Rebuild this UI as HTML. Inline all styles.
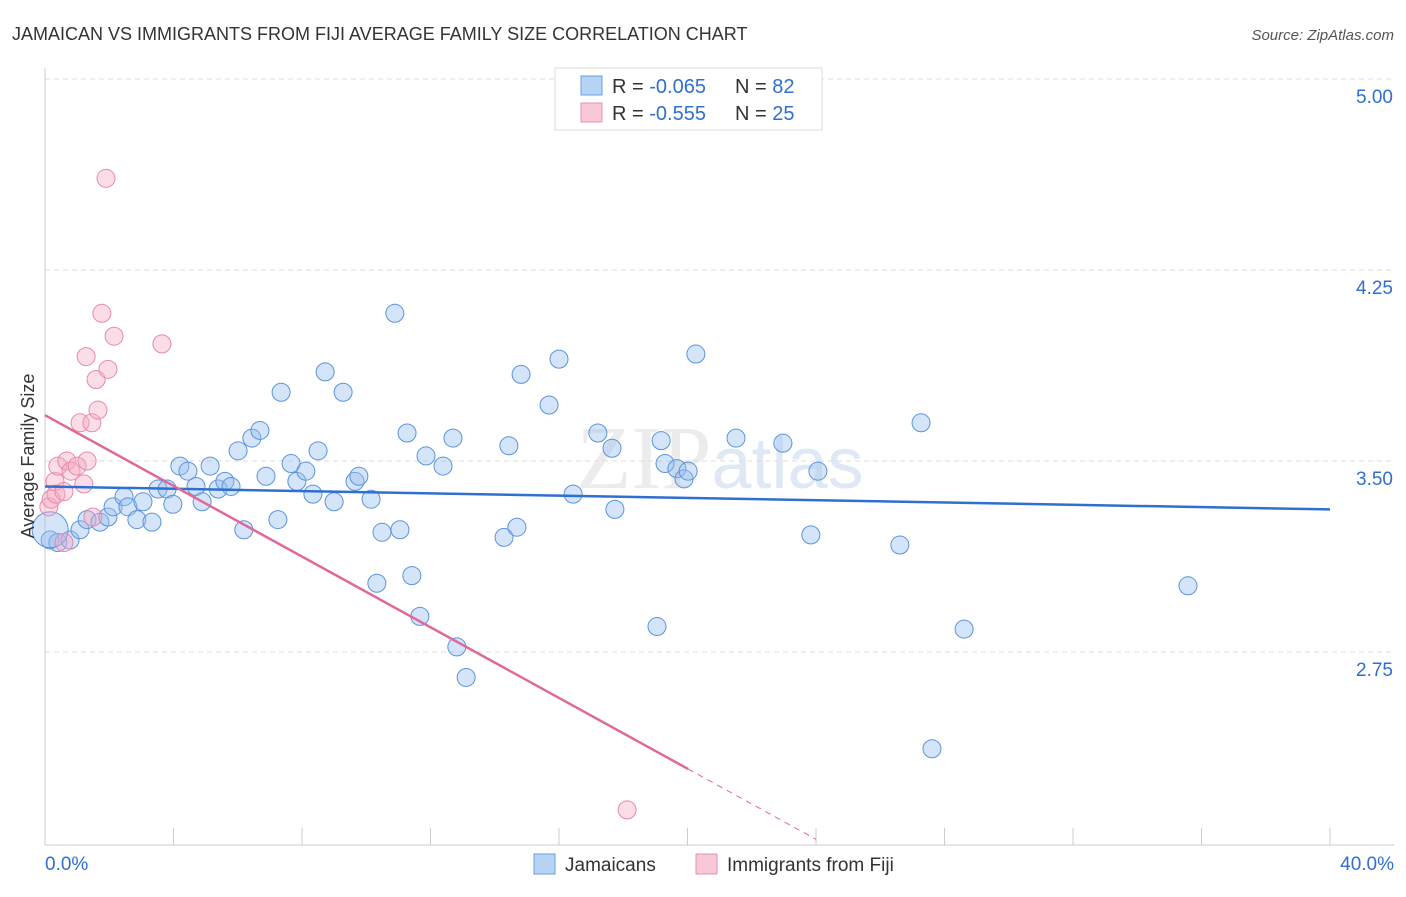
<!DOCTYPE html>
<html><head><meta charset="utf-8"><style>
body{margin:0;background:#fff;font-family:"Liberation Sans",sans-serif;}
</style></head><body>
<svg width="1406" height="892" xmlns="http://www.w3.org/2000/svg" font-family="Liberation Sans, sans-serif">
<text x="12" y="40" font-size="18" fill="#333">JAMAICAN VS IMMIGRANTS FROM FIJI AVERAGE FAMILY SIZE CORRELATION CHART</text>
<text x="1394" y="40" font-size="15" fill="#555" font-style="italic" text-anchor="end">Source: ZipAtlas.com</text>
<text x="720" y="488" font-size="90" fill="#ececec" text-anchor="middle" font-family="Liberation Serif, serif">ZIP<tspan fill="#dfe9f6" font-family="Liberation Sans, sans-serif" font-size="72">atlas</tspan></text>
<g id="grid"></g><g id="axes"></g><g id="marks"></g>
<text transform="translate(34,456) rotate(-90)" font-size="18" fill="#333" text-anchor="middle">Average Family Size</text>
<g>
<rect x="555" y="68" width="267" height="62" fill="#fff" stroke="#ddd"/>
<rect x="581" y="76" width="21" height="19" fill="#b8d4f5" stroke="#6a9ee0"/>
<rect x="581" y="103" width="21" height="19" fill="#f8c8d6" stroke="#e890aa"/>
<text x="612" y="93" font-size="20" fill="#333">R = <tspan fill="#2f6fd0">-0.065</tspan></text>
<text x="735" y="93" font-size="20" fill="#333">N = <tspan fill="#2f6fd0">82</tspan></text>
<text x="612" y="120" font-size="20" fill="#333">R = <tspan fill="#2f6fd0">-0.555</tspan></text>
<text x="735" y="120" font-size="20" fill="#333">N = <tspan fill="#2f6fd0">25</tspan></text>
</g>
<g>
<rect x="534" y="854" width="21" height="20" fill="#b8d4f5" stroke="#6a9ee0"/>
<text x="565" y="871" font-size="19" fill="#333">Jamaicans</text>
<rect x="696" y="854" width="21" height="20" fill="#f8c8d6" stroke="#e890aa"/>
<text x="727" y="871" font-size="19" fill="#333">Immigrants from Fiji</text>
</g>
</svg>
<script>
const yTicks=[5.00,4.25,3.50,2.75];
const yTickLabels=["5.00","4.25","3.50","2.75"];
const xTicks=[0,4,8,12,16,20,24,28,32,36,40];
const blueX=[0.16,0.40,0.78,1.09,1.31,1.71,1.96,2.12,2.46,2.58,2.86,3.05,3.33,3.52,3.80,3.98,4.20,4.45,4.70,4.89,5.14,5.39,5.60,5.79,6.01,6.19,6.44,6.69,6.88,7.25,7.35,7.66,7.84,8.12,8.34,8.50,8.72,9.00,9.28,9.65,9.77,10.15,10.33,10.49,10.89,11.05,11.27,11.42,11.67,11.86,12.39,12.70,12.82,13.11,14.29,14.44,14.69,14.82,15.69,16.00,16.44,17.21,17.65,17.74,19.05,19.18,19.30,19.67,19.89,20.02,20.26,21.51,22.97,23.84,24.06,26.61,27.27,27.61,28.61,35.58,0.16];
const blueY=[3.19,3.18,3.19,3.23,3.27,3.26,3.28,3.32,3.36,3.32,3.27,3.34,3.26,3.39,3.39,3.33,3.48,3.46,3.40,3.34,3.48,3.39,3.42,3.40,3.54,3.23,3.59,3.62,3.44,3.27,3.77,3.49,3.42,3.46,3.37,3.54,3.85,3.34,3.77,3.42,3.44,3.35,3.02,3.22,4.08,3.23,3.61,3.05,2.89,3.52,3.48,3.59,2.77,2.65,3.20,3.56,3.24,3.84,3.72,3.90,3.37,3.61,3.55,3.31,2.85,3.58,3.49,3.47,3.43,3.46,3.92,3.59,3.57,3.21,3.46,3.17,3.65,2.37,2.84,3.01,3.23];
const blueR=[9,9,9,9,9,9,9,9,9,9,9,9,9,9,9,9,9,9,9,9,9,9,9,9,9,9,9,9,9,9,9,9,9,9,9,9,9,9,9,9,9,9,9,9,9,9,9,9,9,9,9,9,9,9,9,9,9,9,9,9,9,9,9,9,9,9,9,9,9,9,9,9,9,9,9,9,9,9,9,9,18];
const pinkX=[0.12,0.19,0.31,0.34,0.40,0.59,0.68,0.81,1.00,1.09,1.21,1.28,1.31,1.46,1.49,1.59,1.65,1.77,1.90,1.96,2.15,3.64,18.12,0.59];
const pinkY=[3.32,3.35,3.42,3.37,3.48,3.38,3.50,3.46,3.48,3.65,3.41,3.91,3.50,3.65,3.28,3.82,3.70,4.08,4.61,3.86,3.99,3.96,2.13,3.18];
const blueTrend=[3.40,3.31];
const pinkTrend=[3.68,-0.0694,20.02,24.0];
const NS="http://www.w3.org/2000/svg";
const X=v=>45+v/40*1285, Y=v=>79+(5-v)/0.75*191;
function mk(t,a,p){const e=document.createElementNS(NS,t);for(const k in a)e.setAttribute(k,a[k]);document.getElementById(p).appendChild(e);return e;}
yTicks.forEach((t,i)=>{
 const g=mk('line',{x1:45,x2:1394,y1:Y(t),y2:Y(t),stroke:'#ddd','stroke-dasharray':'5,4'},'grid');
 
 
 const l=mk('text',{x:1393,y:Y(t)+24,'font-size':19,fill:'#2f6fd0','text-anchor':'end'},'axes');
 l.textContent=yTickLabels[i];
 
 
});
const ax=mk('line',{x1:45,x2:45,y1:68,y2:845,stroke:'#ccc'},'axes');


const bx=mk('line',{x1:45,x2:1394,y1:845,y2:845,stroke:'#ccc'},'axes');


xTicks.forEach(t=>{const k=mk('line',{x1:X(t),x2:X(t),y1:828,y2:845,stroke:'#ccc'},'axes');
 
 });
[[0,'0.0%','start',45],[40,'40.0%','end',1394]].forEach(a=>{const t=mk('text',{x:a[3],y:870,'font-size':19,fill:'#2f6fd0','text-anchor':a[2]},'axes');t.textContent=a[1];
 
 });
blueX.forEach((x,i)=>{const c=mk('circle',{cx:X(x),cy:Y(blueY[i]),r:blueR[i],fill:'rgba(150,190,240,0.4)',stroke:'#5b93dc','stroke-width':1},'marks');
 
 });
pinkX.forEach((x,i)=>{const c=mk('circle',{cx:X(x),cy:Y(pinkY[i]),r:9,fill:'rgba(245,170,195,0.4)',stroke:'#e88aa8','stroke-width':1},'marks');
 
 });
const bt=mk('line',{x1:X(0),y1:Y(blueTrend[0]),x2:X(40),y2:Y(blueTrend[1]),stroke:'#2f6fd0','stroke-width':2.5},'marks');


const pe=pinkTrend[0]+pinkTrend[1]*pinkTrend[2], pd=pinkTrend[0]+pinkTrend[1]*pinkTrend[3];
const pt=mk('line',{x1:X(0),y1:Y(pinkTrend[0]),x2:X(pinkTrend[2]),y2:Y(pe),stroke:'#e0689a','stroke-width':2.5},'marks');


const pdl=mk('line',{x1:X(pinkTrend[2]),y1:Y(pe),x2:X(pinkTrend[3]),y2:Y(pd),stroke:'#e0689a','stroke-width':1,'stroke-dasharray':'6,5'},'marks');


</script>
</body></html>
